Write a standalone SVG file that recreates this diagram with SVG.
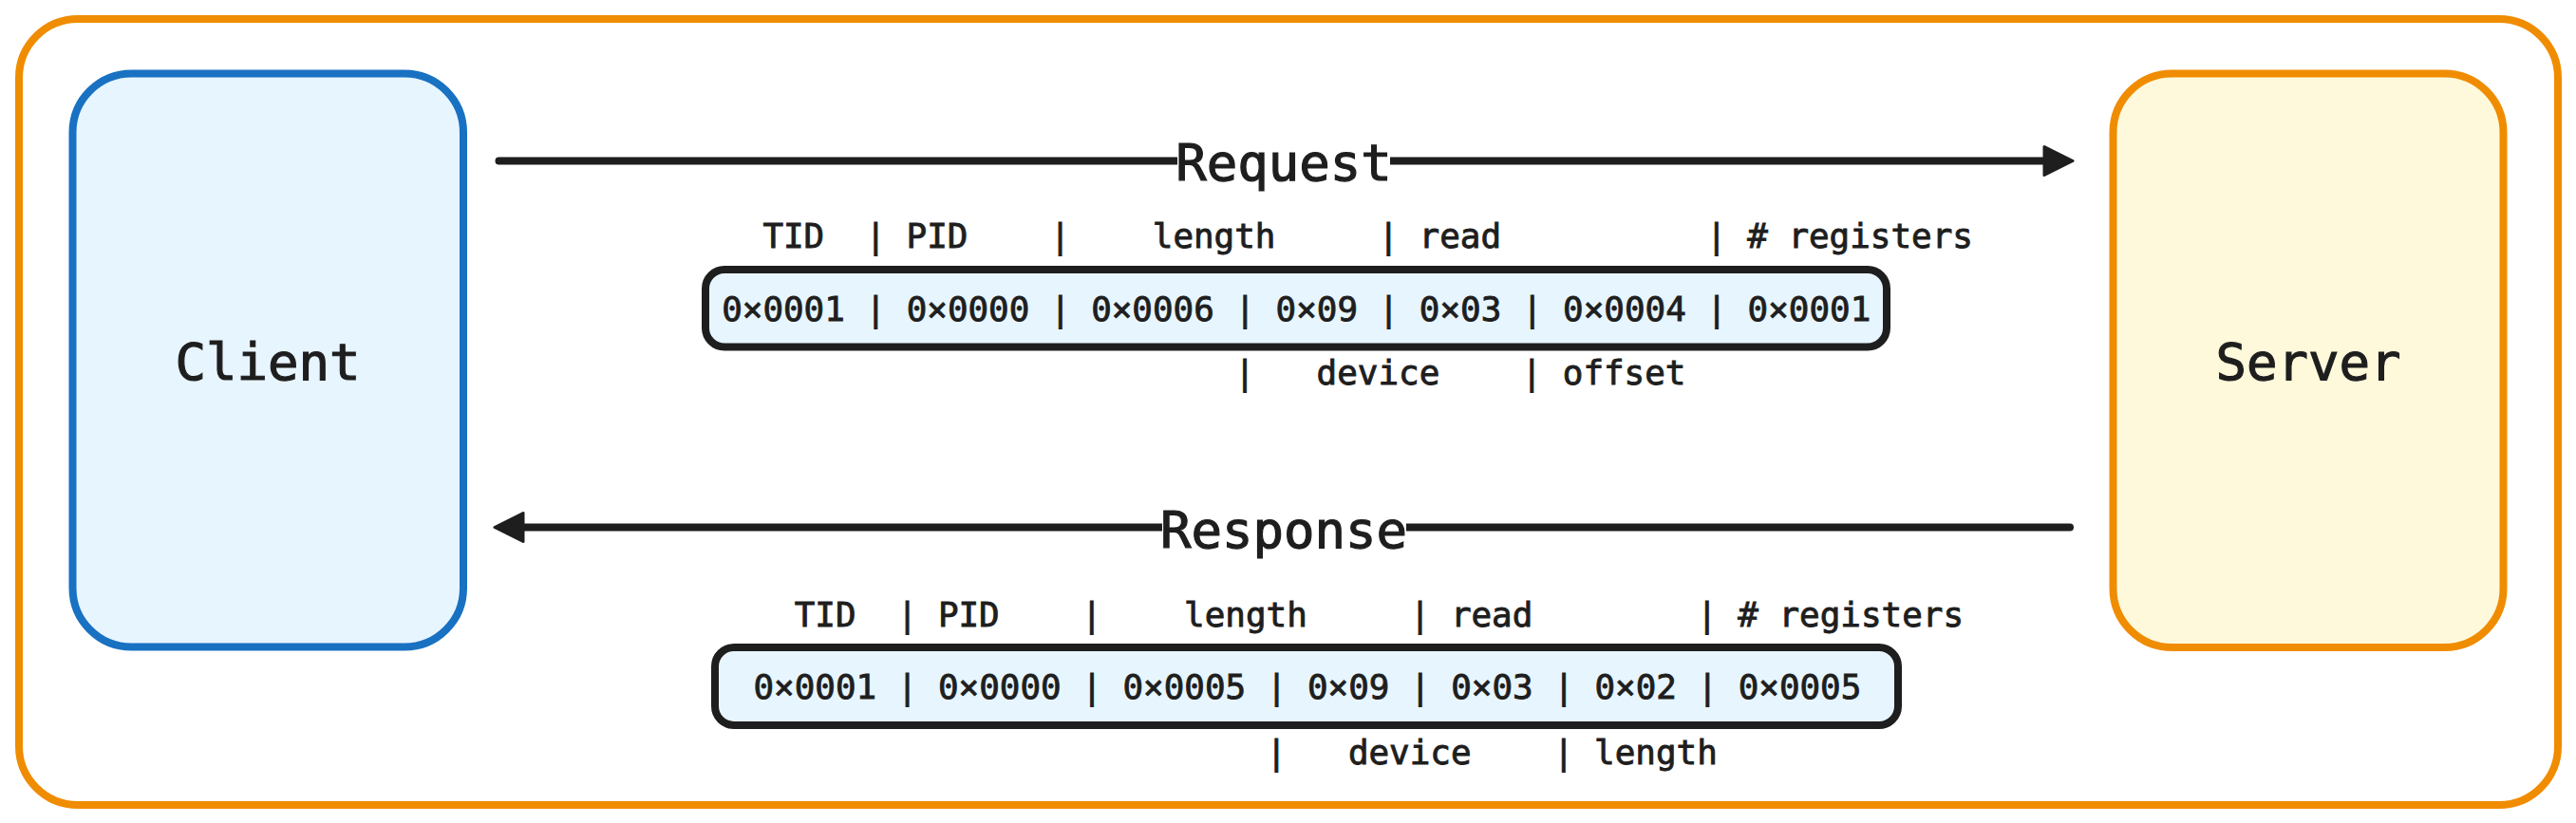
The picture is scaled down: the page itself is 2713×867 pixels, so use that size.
<svg xmlns="http://www.w3.org/2000/svg" width="2713" height="867" viewBox="0 0 2713 867">
  <style>
    .big { font-family: "DejaVu Sans Mono", "Liberation Mono", monospace; font-size: 54px; fill: #1e1e1e; stroke: #1e1e1e; stroke-width: 1.2px; }
    .sm { font-family: "DejaVu Sans Mono", "Liberation Mono", monospace; font-size: 35.9px; fill: #1e1e1e; stroke: #1e1e1e; stroke-width: 0.9px; }
    .mid { text-anchor: middle; }
    .pkt { fill: #e7f5ff; stroke: #1e1e1e; stroke-width: 8; }
    .conn { fill: none; stroke: #1e1e1e; stroke-width: 8; stroke-linecap: round; }
  </style>
  <defs>
    <marker id="ah" viewBox="0 0 34 34" refX="10" refY="17" markerWidth="34" markerHeight="34" markerUnits="userSpaceOnUse" orient="auto">
      <polygon points="2,2 32,17 2,32" fill="#1e1e1e" stroke="#1e1e1e" stroke-width="3" stroke-linejoin="round"/>
    </marker>
  </defs>
  <rect width="2713" height="867" fill="#ffffff"/>

  <g id="frame">
    <rect x="20" y="20" width="2674" height="828" rx="62" fill="none" stroke="#f08c00" stroke-width="8"/>
  </g>

  <g id="client">
    <rect x="76.5" y="77.5" width="411.5" height="604" rx="62" fill="#e7f5ff" stroke="#1971c2" stroke-width="8"/>
    <text class="big mid" x="282" y="400">Client</text>
  </g>

  <g id="server">
    <rect x="2225.5" y="77.5" width="411" height="604.5" rx="62" fill="#fff9db" stroke="#f08c00" stroke-width="8"/>
    <text class="big mid" x="2431" y="400">Server</text>
  </g>

  <g id="connectors">
    <g id="request-arrow">
      <path class="conn" d="M 525.5 169.5 L 2161 169.5" marker-end="url(#ah)"/>
      <rect x="1240" y="150" width="224" height="40" fill="#ffffff"/>
      <text class="big mid" x="1352" y="190">Request</text>
    </g>
    <g id="response-arrow">
      <path class="conn" d="M 2180 555.5 L 543 555.5" marker-end="url(#ah)"/>
      <rect x="1224" y="536" width="257" height="40" fill="#ffffff"/>
      <text class="big mid" x="1352" y="577">Response</text>
    </g>
  </g>

  <g id="request-packet">
    <text class="sm" x="803.4" y="261">TID</text>
    <text class="sm" x="911.4" y="261">|</text>
    <text class="sm" x="954.6" y="261">PID</text>
    <text class="sm" x="1105.8" y="261">|</text>
    <text class="sm" x="1213.8" y="261">length</text>
    <text class="sm" x="1451.4" y="261">|</text>
    <text class="sm" x="1494.6" y="261">read</text>
    <text class="sm" x="1797" y="261">|</text>
    <text class="sm" x="1840.2" y="261"># registers</text>
    <rect class="pkt" x="743" y="284" width="1244" height="81.5" rx="20"/>
    <text class="sm" x="760.2" y="338">0×0001 | 0×0000 | 0×0006 | 0×09 | 0×03 | 0×0004 | 0×0001</text>
    <text class="sm" x="1300.2" y="405">|</text>
    <text class="sm" x="1386.6" y="405">device</text>
    <text class="sm" x="1602.6" y="405">|</text>
    <text class="sm" x="1645.8" y="405">offset</text>
  </g>

  <g id="response-packet">
    <text class="sm" x="836.7" y="660">TID</text>
    <text class="sm" x="944.7" y="660">|</text>
    <text class="sm" x="987.9" y="660">PID</text>
    <text class="sm" x="1139.1" y="660">|</text>
    <text class="sm" x="1247.1" y="660">length</text>
    <text class="sm" x="1484.7" y="660">|</text>
    <text class="sm" x="1527.9" y="660">read</text>
    <text class="sm" x="1787.1" y="660">|</text>
    <text class="sm" x="1830.3" y="660"># registers</text>
    <rect class="pkt" x="753" y="682" width="1246" height="82" rx="20"/>
    <text class="sm" x="793.5" y="736">0×0001 | 0×0000 | 0×0005 | 0×09 | 0×03 | 0×02 | 0×0005</text>
    <text class="sm" x="1333.5" y="805">|</text>
    <text class="sm" x="1419.9" y="805">device</text>
    <text class="sm" x="1635.9" y="805">|</text>
    <text class="sm" x="1679.1" y="805">length</text>
  </g>
</svg>
